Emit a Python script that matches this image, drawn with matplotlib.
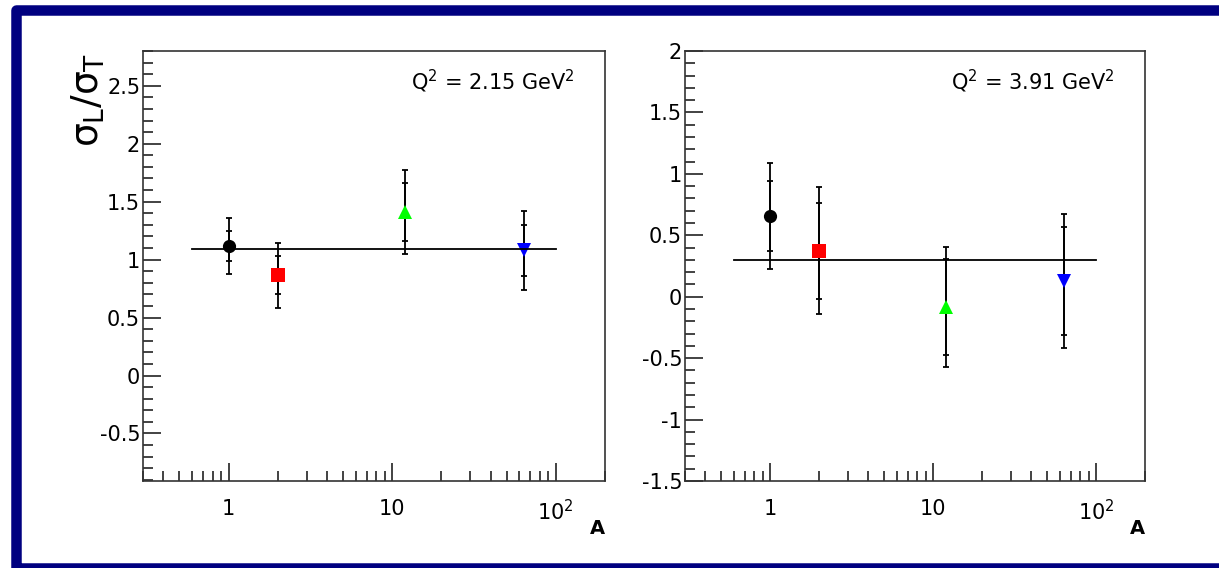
import matplotlib
matplotlib.use("Agg")
import matplotlib.pyplot as plt
import matplotlib.patches as patches
from matplotlib.ticker import MultipleLocator, FuncFormatter, LogLocator, FixedLocator

plt.rcParams['font.family'] = ['DejaVu Sans']
plt.rcParams['mathtext.fontset'] = 'custom'
plt.rcParams['mathtext.rm'] = 'DejaVu Sans'
plt.rcParams['mathtext.it'] = 'DejaVu Sans'
plt.rcParams['mathtext.bf'] = 'DejaVu Sans:bold'
plt.rcParams['axes.unicode_minus'] = False

# data
mass_number = [1, 2, 12, 64]
marker_styles = ['o', 's', '^', 'v']
marker_colors = ['black', '#ff0000', '#00ff00', '#0000ff']

q2_labels = ['Q$^{2}$ = 2.15 GeV$^{2}$', 'Q$^{2}$ = 3.91 GeV$^{2}$']

ratio_q2_215 = [1.12, 0.865, 1.41, 1.08]
stat_q2_215 = [0.13, 0.165, 0.25, 0.22]
total_q2_215 = [0.24, 0.28, 0.36, 0.34]
fit_q2_215 = 1.09

ratio_q2_391 = [0.655, 0.375, -0.085, 0.13]
stat_q2_391 = [0.285, 0.39, 0.39, 0.44]
total_q2_391 = [0.43, 0.515, 0.49, 0.545]
fit_q2_391 = 0.30

fit_range = [0.6, 100]
ylims = [(-0.91, 2.8), (-1.5, 2.0)]

W, H = 1219, 568
fig = plt.figure(figsize=(W / 100, H / 100), dpi=100)
fig.patch.set_facecolor('white')

# navy canvas border
border = patches.Rectangle((15.5 / W, 0.0), 1.2, 1 - 10 / H, transform=fig.transFigure,
                           fill=False, edgecolor='#000080', linewidth=10.5 * 0.72,
                           joinstyle='round', clip_on=False)
fig.patches.append(border)

ax_left = fig.add_axes([143 / W, 1 - 481 / H, (605 - 143) / W, (481 - 51) / H])
ax_right = fig.add_axes([685 / W, 1 - 481 / H, (1145 - 685) / W, (481 - 51) / H])


def log_label(v, pos):
    if abs(v - 100) < 1e-6:
        return r'10$^{2}$'
    return '%g' % v


def draw_panel(ax, ratio, stat, total, fit, label, ylim):
    ax.plot(fit_range, [fit, fit], color='black', lw=1.3, zorder=4)
    for a, r, s, t, m, c in zip(mass_number, ratio, stat, total, marker_styles, marker_colors):
        ax.errorbar([a], [r], yerr=[t], fmt='none', ecolor='black', elinewidth=1.3,
                    capsize=2.5, capthick=1.3, zorder=2)
        ax.errorbar([a], [r], yerr=[s], fmt='none', ecolor='black', elinewidth=1.3,
                    capsize=2.5, capthick=1.3, zorder=2)
        ax.plot([a], [r], marker=m, color=c, markersize=10 if m != 'o' else 9.5,
                linestyle='none', markeredgewidth=0, zorder=3)

    ax.set_xscale('log')
    ax.set_xlim(0.3, 200)
    ax.set_ylim(*ylim)
    ax.xaxis.set_major_locator(FixedLocator([1, 10, 100]))
    ax.xaxis.set_minor_locator(LogLocator(base=10, subs=range(2, 10)))
    ax.xaxis.set_major_formatter(FuncFormatter(log_label))
    ax.xaxis.set_minor_formatter(FuncFormatter(lambda v, p: ''))
    ax.yaxis.set_major_locator(MultipleLocator(0.5))
    ax.yaxis.set_minor_locator(MultipleLocator(0.1))
    ax.yaxis.set_major_formatter(FuncFormatter(lambda v, p: '%g' % round(v, 2)))

    ax.tick_params(which='both', direction='in', top=False, right=False, width=1.2,
                   color='#222222')
    ax.tick_params(axis='y', which='major', length=13, pad=2, labelsize=15)
    ax.tick_params(axis='y', which='minor', length=7)
    ax.tick_params(axis='x', which='major', length=13, pad=13, labelsize=15)
    ax.tick_params(axis='x', which='minor', length=7)
    for sp in ax.spines.values():
        sp.set_linewidth(1.2)
        sp.set_color('#333333')

    ax.text(0.935, 0.93, label, transform=ax.transAxes, ha='right', va='center', fontsize=15)
    ax.text(1.0, -0.11, 'A', transform=ax.transAxes, ha='right', va='center',
            fontsize=14, fontweight='bold')


draw_panel(ax_left, ratio_q2_215, stat_q2_215, total_q2_215, fit_q2_215, q2_labels[0], ylims[0])
draw_panel(ax_right, ratio_q2_391, stat_q2_391, total_q2_391, fit_q2_391, q2_labels[1], ylims[1])

fig.text(88 / W, 1 - 53 / H, r'$\sigma_{L}/\sigma_{T}$', rotation=90, ha='center', va='top',
         fontsize=27)

fig.savefig('out.png', dpi=100)
